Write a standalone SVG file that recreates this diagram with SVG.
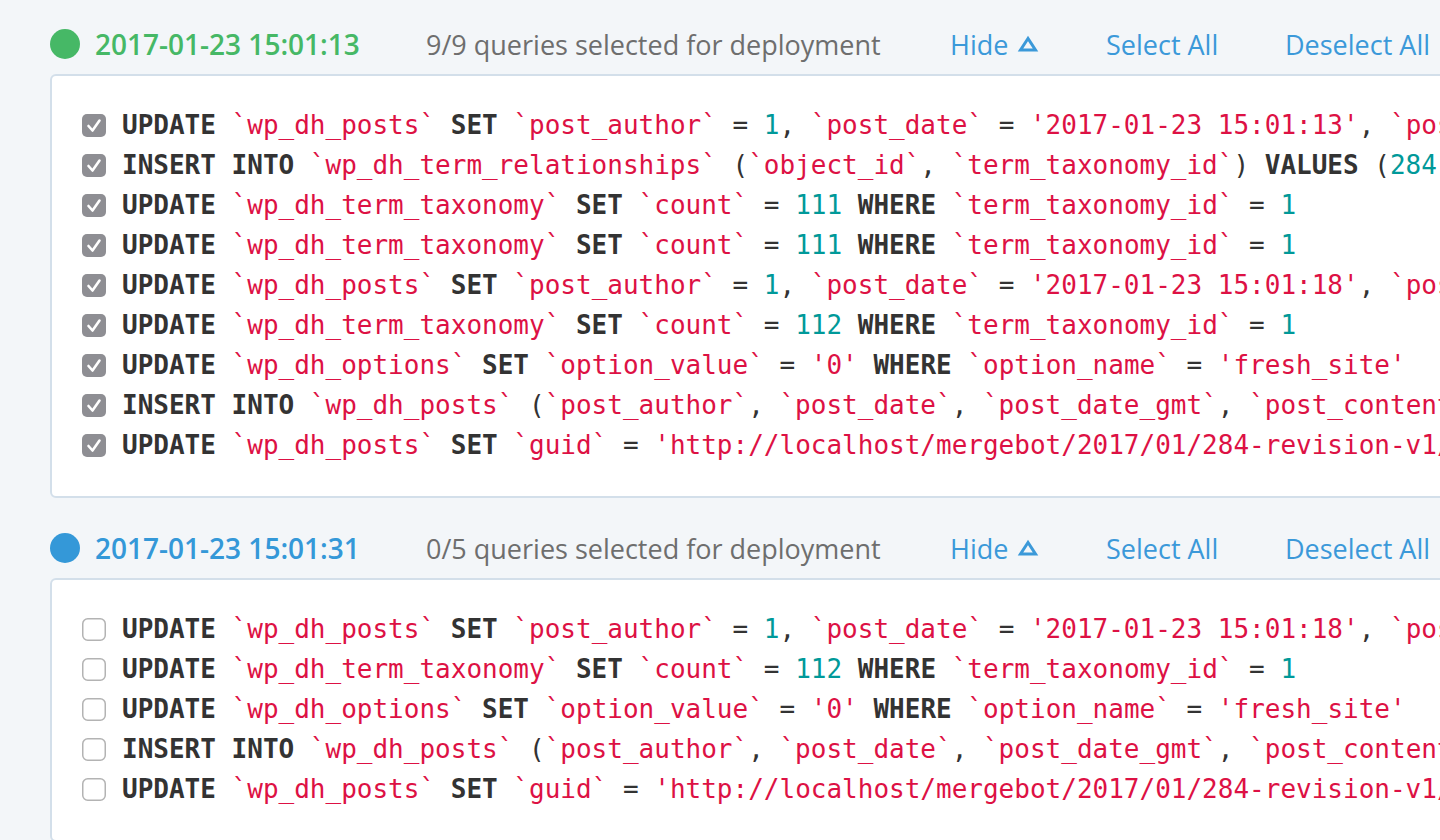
<svg xmlns="http://www.w3.org/2000/svg" width="1440" height="840" viewBox="0 0 1440 840">
<style>
.bg{fill:#f3f6f9}
.panel{fill:#ffffff;stroke:#d3dfea;stroke-width:2}
.date{font-family:"Open Sans","Liberation Sans",sans-serif;font-size:28px;font-weight:600}
.sum{font-family:"Open Sans","Liberation Sans",sans-serif;font-size:27px;fill:#6e6e6e}
.link{font-family:"Open Sans","Liberation Sans",sans-serif;font-size:27px;fill:#3b99d9}
.tri{fill:none;stroke:#3b99d9;stroke-width:3;stroke-linejoin:miter}
.code{font-family:"DejaVu Sans Mono","Liberation Mono",monospace;font-size:26px;fill:#333333}
.k{font-weight:bold;fill:#333333}
.s{fill:#dd1144}
.n{fill:#009999}
.cbon{fill:#8e8e93}
.cboff{fill:#ffffff;stroke:#b3b3b3;stroke-width:1.5}
.chk{fill:none;stroke:#ffffff;stroke-width:2.6;stroke-linecap:round;stroke-linejoin:round}
</style>
<defs>
<g id="cbOn"><rect class="cbon" x="0" y="0" width="24" height="23" rx="5"/><polyline class="chk" points="6.5,12 10.5,16.5 17.5,6.5"/></g>
<g id="cbOff"><rect class="cboff" x="0.75" y="0.75" width="22.5" height="21.5" rx="5"/></g>
</defs>
<rect class="bg" x="0" y="0" width="1440" height="840"/>

<g id="batch1">
<g id="header1">
<circle cx="65" cy="44" r="15" fill="#46b866"/>
<text class="date" x="95" y="55" fill="#46b866">2017-01-23 15:01:13</text>
<text class="sum" x="426" y="55">9/9 queries selected for deployment</text>
<text class="link" x="950" y="55">Hide</text>
<polygon class="tri" points="1028,38.5 1020.5,50 1035.5,50"/>
<text class="link" x="1106" y="55">Select All</text>
<text class="link" x="1285" y="55">Deselect All</text>
</g>
<g id="panel1">
<rect class="panel" x="51" y="75" width="1420" height="422" rx="5"/>
<use href="#cbOn" x="82" y="114"/>
<use href="#cbOn" x="82" y="154"/>
<use href="#cbOn" x="82" y="194"/>
<use href="#cbOn" x="82" y="234"/>
<use href="#cbOn" x="82" y="274"/>
<use href="#cbOn" x="82" y="314"/>
<use href="#cbOn" x="82" y="354"/>
<use href="#cbOn" x="82" y="394"/>
<use href="#cbOn" x="82" y="434"/>
<text class="code" x="122" y="134"><tspan class="k">UPDATE</tspan> <tspan class="s">`wp_dh_posts`</tspan> <tspan class="k">SET</tspan> <tspan class="s">`post_author`</tspan> = <tspan class="n">1</tspan>, <tspan class="s">`post_date`</tspan> = <tspan class="s">'2017-01-23 15:01:13'</tspan>, <tspan class="s">`pos</tspan></text>
<text class="code" x="122" y="174"><tspan class="k">INSERT INTO</tspan> <tspan class="s">`wp_dh_term_relationships`</tspan> (<tspan class="s">`object_id`</tspan>, <tspan class="s">`term_taxonomy_id`</tspan>) <tspan class="k">VALUES</tspan> (<tspan class="n">284</tspan></text>
<text class="code" x="122" y="214"><tspan class="k">UPDATE</tspan> <tspan class="s">`wp_dh_term_taxonomy`</tspan> <tspan class="k">SET</tspan> <tspan class="s">`count`</tspan> = <tspan class="n">111</tspan> <tspan class="k">WHERE</tspan> <tspan class="s">`term_taxonomy_id`</tspan> = <tspan class="n">1</tspan></text>
<text class="code" x="122" y="254"><tspan class="k">UPDATE</tspan> <tspan class="s">`wp_dh_term_taxonomy`</tspan> <tspan class="k">SET</tspan> <tspan class="s">`count`</tspan> = <tspan class="n">111</tspan> <tspan class="k">WHERE</tspan> <tspan class="s">`term_taxonomy_id`</tspan> = <tspan class="n">1</tspan></text>
<text class="code" x="122" y="294"><tspan class="k">UPDATE</tspan> <tspan class="s">`wp_dh_posts`</tspan> <tspan class="k">SET</tspan> <tspan class="s">`post_author`</tspan> = <tspan class="n">1</tspan>, <tspan class="s">`post_date`</tspan> = <tspan class="s">'2017-01-23 15:01:18'</tspan>, <tspan class="s">`pos</tspan></text>
<text class="code" x="122" y="334"><tspan class="k">UPDATE</tspan> <tspan class="s">`wp_dh_term_taxonomy`</tspan> <tspan class="k">SET</tspan> <tspan class="s">`count`</tspan> = <tspan class="n">112</tspan> <tspan class="k">WHERE</tspan> <tspan class="s">`term_taxonomy_id`</tspan> = <tspan class="n">1</tspan></text>
<text class="code" x="122" y="374"><tspan class="k">UPDATE</tspan> <tspan class="s">`wp_dh_options`</tspan> <tspan class="k">SET</tspan> <tspan class="s">`option_value`</tspan> = <tspan class="s">'0'</tspan> <tspan class="k">WHERE</tspan> <tspan class="s">`option_name`</tspan> = <tspan class="s">'fresh_site'</tspan></text>
<text class="code" x="122" y="414"><tspan class="k">INSERT INTO</tspan> <tspan class="s">`wp_dh_posts`</tspan> (<tspan class="s">`post_author`</tspan>, <tspan class="s">`post_date`</tspan>, <tspan class="s">`post_date_gmt`</tspan>, <tspan class="s">`post_content</tspan></text>
<text class="code" x="122" y="454"><tspan class="k">UPDATE</tspan> <tspan class="s">`wp_dh_posts`</tspan> <tspan class="k">SET</tspan> <tspan class="s">`guid`</tspan> = <tspan class="s">'http://localhost/mergebot/2017/01/284-revision-v1/</tspan></text>
</g>
</g>

<g id="batch2">
<g id="header2">
<circle cx="65" cy="548" r="15" fill="#3498d8"/>
<text class="date" x="95" y="559" fill="#3498d8">2017-01-23 15:01:31</text>
<text class="sum" x="426" y="559">0/5 queries selected for deployment</text>
<text class="link" x="950" y="559">Hide</text>
<polygon class="tri" points="1028,542.5 1020.5,554 1035.5,554"/>
<text class="link" x="1106" y="559">Select All</text>
<text class="link" x="1285" y="559">Deselect All</text>
</g>
<g id="panel2">
<rect class="panel" x="51" y="579" width="1420" height="262" rx="5"/>
<use href="#cbOff" x="82" y="618"/>
<use href="#cbOff" x="82" y="658"/>
<use href="#cbOff" x="82" y="698"/>
<use href="#cbOff" x="82" y="738"/>
<use href="#cbOff" x="82" y="778"/>
<text class="code" x="122" y="638"><tspan class="k">UPDATE</tspan> <tspan class="s">`wp_dh_posts`</tspan> <tspan class="k">SET</tspan> <tspan class="s">`post_author`</tspan> = <tspan class="n">1</tspan>, <tspan class="s">`post_date`</tspan> = <tspan class="s">'2017-01-23 15:01:18'</tspan>, <tspan class="s">`pos</tspan></text>
<text class="code" x="122" y="678"><tspan class="k">UPDATE</tspan> <tspan class="s">`wp_dh_term_taxonomy`</tspan> <tspan class="k">SET</tspan> <tspan class="s">`count`</tspan> = <tspan class="n">112</tspan> <tspan class="k">WHERE</tspan> <tspan class="s">`term_taxonomy_id`</tspan> = <tspan class="n">1</tspan></text>
<text class="code" x="122" y="718"><tspan class="k">UPDATE</tspan> <tspan class="s">`wp_dh_options`</tspan> <tspan class="k">SET</tspan> <tspan class="s">`option_value`</tspan> = <tspan class="s">'0'</tspan> <tspan class="k">WHERE</tspan> <tspan class="s">`option_name`</tspan> = <tspan class="s">'fresh_site'</tspan></text>
<text class="code" x="122" y="758"><tspan class="k">INSERT INTO</tspan> <tspan class="s">`wp_dh_posts`</tspan> (<tspan class="s">`post_author`</tspan>, <tspan class="s">`post_date`</tspan>, <tspan class="s">`post_date_gmt`</tspan>, <tspan class="s">`post_content</tspan></text>
<text class="code" x="122" y="798"><tspan class="k">UPDATE</tspan> <tspan class="s">`wp_dh_posts`</tspan> <tspan class="k">SET</tspan> <tspan class="s">`guid`</tspan> = <tspan class="s">'http://localhost/mergebot/2017/01/284-revision-v1/</tspan></text>
</g>
</g>
</svg>
